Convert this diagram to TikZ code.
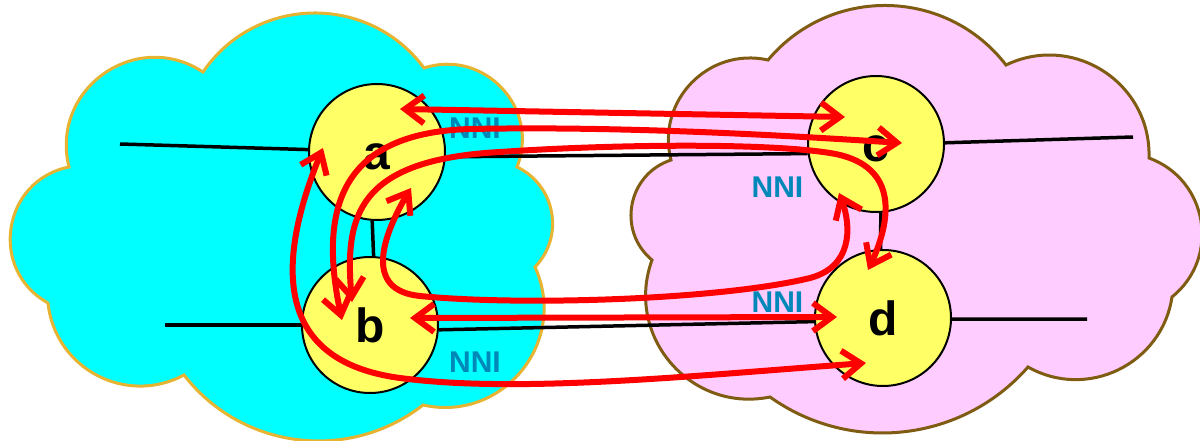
\documentclass[tikz,border=0pt]{standalone}
\usepackage{fontspec}
\setsansfont{Liberation Sans}
\usetikzlibrary{calc,arrows.meta,bending}
\definecolor{cloudA}{HTML}{00FFFF}
\definecolor{cloudAline}{HTML}{E6B432}
\definecolor{cloudB}{HTML}{FFCCFF}
\definecolor{cloudBline}{HTML}{7F5C12}
\definecolor{nodefill}{HTML}{FFFF66}
\definecolor{nnicol}{HTML}{0088B8}
\tikzset{
  bump/.style={to path={let \p1=(\tikztostart), \p2=(\tikztotarget),
    \n1={veclen(\x2-\x1,\y2-\y1)},
    \n2={2*atan(2*#1/\n1)},
    \n3={4/3*#1/sin(\n2)},
    \n4={(\x2-\x1)/\n1}, \n5={(\y2-\y1)/\n1}
    in .. controls ({\x1+\n3*(cos(\n2)*\n4-sin(\n2)*\n5)}, {\y1+\n3*(cos(\n2)*\n5+sin(\n2)*\n4)})
    and ({\x2+\n3*(-cos(\n2)*\n4-sin(\n2)*\n5)}, {\y2+\n3*(-cos(\n2)*\n5+sin(\n2)*\n4)}) .. (\tikztotarget)}},
  cloudleft/.style={fill=cloudA, draw=cloudAline, line width=3pt},
  cloudright/.style={fill=cloudB, draw=cloudBline, line width=3pt},
  router/.style={circle, draw=black, line width=2pt, fill=nodefill, minimum size=136pt,
    inner sep=0pt, font=\sffamily\bfseries\fontsize{48}{50}\selectfont,
    text height=34.6pt, text depth=0pt},
  nni/.style={inner sep=0pt, text=nnicol, font=\sffamily\bfseries\fontsize{30}{32}\selectfont,
    text height=21.5pt, text depth=0pt},
  wire/.style={line width=3.5pt, draw=black},
  link/.style={draw=red, line width=6pt,
    arrows={Straight Barb[length=19pt,width=28pt]-Straight Barb[length=19pt,width=28pt]}},
}
\begin{document}
\begin{tikzpicture}[x=1pt,y=-1pt]
\useasboundingbox (0,0) rectangle (1200,441);
% cloud outline points
\coordinate (L1) at (203,72);
\coordinate (L2) at (424,68);
\coordinate (L3) at (517,167);
\coordinate (L4) at (535,267);
\coordinate (L5) at (423,405);
\coordinate (L6) at (184,375);
\coordinate (L7) at (48,303);
\coordinate (L8) at (69,167);
\coordinate (R1) at (768,60);
\coordinate (R2) at (1006,65);
\coordinate (R3) at (1149,158);
\coordinate (R4) at (1172,297);
\coordinate (R5) at (1028,367);
\coordinate (R6) at (770,397);
\coordinate (R7) at (652,260);
\coordinate (R8) at (671,160);
% clouds
\path[cloudleft] (L1) to[bump=57] (L2) to[bump=43] (L3) to[bump=26] (L4)
  to[bump=55] (L5) to[bump=50] (L6) to[bump=41] (L7) to[bump=48] (L8)
  to[bump=56] (L1) -- cycle;
\path[cloudright] (R1) to[bump=57] (R2) to[bump=48] (R3) to[bump=41] (R4)
  to[bump=42] (R5) to[bump=50] (R6) to[bump=53] (R7) to[bump=30] (R8)
  to[bump=39] (R1) -- cycle;
% routers
\node[router] (a) at (377,152) {a};
\node[router] (b) at (370,325) {b};
\node[router] (c) at (876,144) {c};
\node[router] (d) at (883,318) {d};
% wires
\coordinate (aL) at (120,144);
\coordinate (bL) at (165,325);
\coordinate (cR) at (1133,137);
\coordinate (dR) at (1087,319);
\draw[wire] (aL) -- (a.178);
\draw[wire] (bL) -- (b.180);
\draw[wire] (c.1) -- (cR);
\draw[wire] (d.-1) -- (dR);
\draw[wire] (a.-4) -- (c.188);
\draw[wire] (b.-4) -- (d.183);
\draw[wire] (a.266) -- (b.87);
\draw[wire] (c.-86) -- (d.92);
% NNI labels
\node[nni] (n1) at (475,127.5) {NNI};
\node[nni] (n2) at (777.5,186.5) {NNI};
\node[nni] (n3) at (777.5,301.5) {NNI};
\node[nni] (n4) at (475,361.5) {NNI};
% arrow end points
\coordinate (a1) at ($(a)+(23,-43)$);
\coordinate (c1) at ($(c)+(-31,-27)$);
\coordinate (b2) at ($(b)+(-28,-5)$);
\coordinate (c2) at ($(c)+(26,-1)$);
\coordinate (b3) at ($(b)+(-18,-23)$);
\coordinate (d3) at ($(d)+(-15,-48)$);
\coordinate (a4) at ($(a)+(-54,-4)$);
\coordinate (d4) at ($(d)+(-17,45)$);
\coordinate (b5) at ($(b)+(40,-7)$);
\coordinate (d5) at ($(d)+(-46,-1)$);
\coordinate (a6) at ($(a)+(34,36)$);
\coordinate (c6) at ($(c)+(-37,49)$);
% red paths
\draw[link] (a1) -- (c1);
\draw[link] (b2) .. controls (318,215) and (335,133) .. (470,129)
  .. controls (620,126) and (780,135) .. (c2);
\draw[link] (b3) .. controls (344,220) and (352,160) .. (500,152)
  .. controls (600,145) and (760,142) .. (830,153)
  .. controls (900,164) and (893,220) .. (d3);
\draw[link] (a4) .. controls (280,250) and (265,360) .. (400,378)
  .. controls (520,394) and (700,375) .. (d4);
\draw[link] (b5) -- (d5);
\draw[link] (a6) .. controls (385,230) and (360,290) .. (420,296)
  .. controls (520,306) and (720,300) .. (810,278)
  .. controls (855,266) and (852,222) .. (c6);
\end{tikzpicture}
\end{document}
